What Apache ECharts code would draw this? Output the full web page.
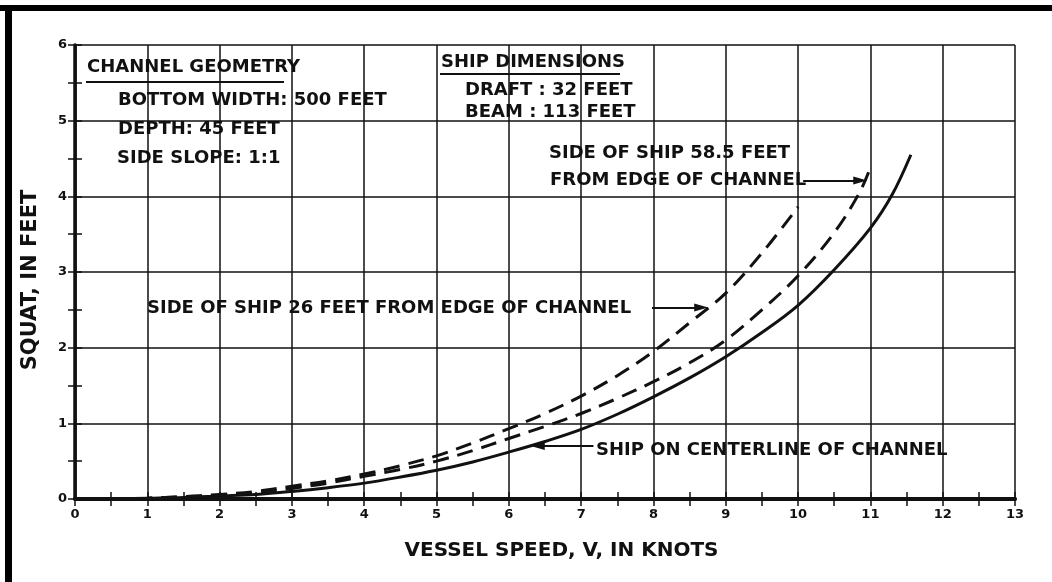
<!DOCTYPE html>
<html>
<head>
<meta charset="utf-8">
<script src="https://cdn.jsdelivr.net/npm/echarts@6/dist/echarts.min.js"></script>
<style>
html,body{margin:0;padding:0;background:#fff;}
#c{width:1052px;height:582px;}
</style>
</head>
<body>
<div id="c"></div>
<script>
// ---- data (vessel speed in knots, squat in feet) ----
const xTicks = [0,1,2,3,4,5,6,7,8,9,10,11,12,13];
const yTicks = [0,1,2,3,4,5,6];

const centerX = [0.5,1,1.5,2,2.5,3,3.5,4,4.5,5,5.5,6,6.5,7,7.5,8,8.5,9,9.5,10,10.5,11,11.3,11.56];
const centerY = [0,0.01,0.02,0.04,0.06,0.10,0.15,0.21,0.29,0.38,0.49,0.62,0.76,0.92,1.12,1.35,1.60,1.88,2.20,2.56,3.03,3.58,4.02,4.55];

const side58X = [0.5,1,1.5,2,2.5,3,3.5,4,4.5,5,5.5,6,6.5,7,7.5,8,8.5,9,9.5,10,10.5,10.85,11];
const side58Y = [0,0.01,0.03,0.05,0.08,0.14,0.21,0.30,0.39,0.50,0.64,0.80,0.96,1.13,1.33,1.55,1.80,2.10,2.50,2.95,3.52,4.05,4.38];

const side26X = [0.5,1,1.5,2,2.5,3,3.5,4,4.5,5,5.5,6,6.5,7,7.5,8,8.5,9,9.5,10];
const side26Y = [0,0.01,0.03,0.06,0.10,0.17,0.24,0.33,0.44,0.57,0.74,0.93,1.13,1.36,1.63,1.95,2.33,2.72,3.25,3.86];

const xName = 'VESSEL SPEED, V, IN KNOTS';
const yName = 'SQUAT, IN FEET';

const zip = (xs, ys) => xs.map((x, i) => [x, ys[i]]);

const FONT = 'DejaVu Sans';
const INK = '#111';

const chart = echarts.init(document.getElementById('c'), null, {renderer: 'canvas'});

function arrowLine(from, to) {
  return {
    silent: true,
    symbol: ['none', 'triangle'],
    symbolSize: [8, 14],
    label: {show: false},
    lineStyle: {color: INK, width: 2, type: 'solid'},
    data: [[{coord: from}, {coord: to}]]
  };
}

function txt(x, y, s) {
  return {type: 'text', x: x, y: y, style: {text: s, fill: INK, font: 'bold 18px ' + FONT, textVerticalAlign: 'middle'}};
}
function rule(x1, x2, y) {
  return {type: 'line', shape: {x1: x1, y1: y, x2: x2, y2: y}, style: {stroke: INK, lineWidth: 2}};
}

// half-unit tick-only axis (ticks point into the plot)
function tickAxis(pos, max, withLine) {
  return {
    type: 'value', min: 0, max: max, interval: 0.5, position: pos,
    axisLine: {show: withLine, lineStyle: {color: INK, width: 3.5}},
    axisTick: {show: true, inside: true, length: 7, lineStyle: {color: INK, width: 1.5}},
    axisLabel: {show: false},
    splitLine: {show: false}
  };
}

const option = {
  backgroundColor: '#fff',
  animation: false,
  grid: {left: 75, right: 37, top: 45, bottom: 83, containLabel: false},
  xAxis: [{
    type: 'value', min: 0, max: 13, interval: 1, position: 'bottom',
    name: xName, nameLocation: 'middle', nameGap: 42,
    nameTextStyle: {color: INK, fontFamily: FONT, fontWeight: 'bold', fontSize: 20, padding: [0, 0, 0, 33]},
    axisLine: {show: true, lineStyle: {color: INK, width: 4}},
    axisTick: {show: false},
    axisLabel: {color: INK, fontFamily: FONT, fontWeight: 'bold', fontSize: 13, margin: 9,
      formatter: v => xTicks.includes(v) ? String(v) : ''},
    splitLine: {show: true, lineStyle: {color: INK, width: 1.5}}
  },
  tickAxis('top', 13, true),
  tickAxis('bottom', 13, false)
  ],
  yAxis: [{
    type: 'value', min: 0, max: 6, interval: 1, position: 'left',
    name: yName, nameLocation: 'middle', nameGap: 34, nameRotate: 90,
    nameTextStyle: {color: INK, fontFamily: FONT, fontWeight: 'bold', fontSize: 21, padding: [0, 16, 0, 0]},
    axisLine: {show: true, lineStyle: {color: INK, width: 2.5}},
    axisTick: {show: false},
    axisLabel: {color: INK, fontFamily: FONT, fontWeight: 'bold', fontSize: 13, margin: 8,
      formatter: v => yTicks.includes(v) ? String(v) : ''},
    splitLine: {show: true, lineStyle: {color: INK, width: 1.5}}
  },
  tickAxis('right', 6, true),
  tickAxis('left', 6, false)
  ],
  series: [{
    name: 'Ship on centerline of channel',
    type: 'line', xAxisIndex: 0, yAxisIndex: 0,
    data: zip(centerX, centerY), smooth: 0.35, showSymbol: false, clip: false,
    lineStyle: {color: INK, width: 3, type: 'solid'},
    markLine: arrowLine([7.17, 0.7], [6.4, 0.7])
  }, {
    name: 'Side of ship 58.5 feet from edge of channel',
    type: 'line', xAxisIndex: 0, yAxisIndex: 0,
    data: zip(side58X, side58Y), smooth: 0.35, showSymbol: false, clip: false,
    lineStyle: {color: INK, width: 3, type: [16, 9]},
    markLine: arrowLine([10.07, 4.21], [10.86, 4.21])
  }, {
    name: 'Side of ship 26 feet from edge of channel',
    type: 'line', xAxisIndex: 0, yAxisIndex: 0,
    data: zip(side26X, side26Y), smooth: 0.35, showSymbol: false, clip: false,
    lineStyle: {color: INK, width: 3, type: [16, 9]},
    markLine: arrowLine([7.98, 2.53], [8.66, 2.53])
  }],
  graphic: [
    {type: 'rect', shape: {x: 0, y: 5, width: 1052, height: 6}, style: {fill: '#000'}},
    {type: 'rect', shape: {x: 5, y: 5, width: 7, height: 577}, style: {fill: '#000'}},
    txt(87, 67, 'CHANNEL GEOMETRY'),
    rule(86, 284, 82),
    txt(118, 100, 'BOTTOM WIDTH: 500 FEET'),
    txt(118, 129, 'DEPTH: 45 FEET'),
    txt(117, 158, 'SIDE SLOPE: 1:1'),
    txt(441, 62, 'SHIP DIMENSIONS'),
    rule(440, 620, 74),
    txt(465, 90, 'DRAFT : 32 FEET'),
    txt(465, 112, 'BEAM : 113 FEET'),
    txt(549, 153, 'SIDE OF SHIP 58.5 FEET'),
    txt(550, 180, 'FROM EDGE OF CHANNEL'),
    txt(147, 308, 'SIDE OF SHIP 26 FEET FROM EDGE OF CHANNEL'),
    txt(596, 450, 'SHIP ON CENTERLINE OF CHANNEL')
  ]
};
chart.setOption(option);
</script>
</body>
</html>
